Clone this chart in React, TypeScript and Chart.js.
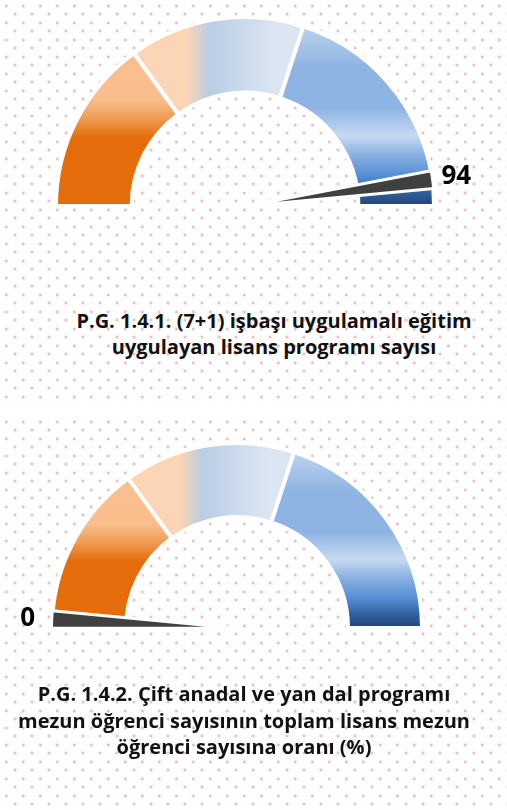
import React, { useEffect, useRef } from "react";
import { Chart, registerables } from "chart.js";

Chart.register(...registerables);

// ---- data ----
const bandLabels = ["Bölge 1", "Bölge 2", "Bölge 3"];
const bandValues = [30, 30, 40];
const gaugeMax = 100;
const needleWidth = 3;
const gauge1Value = 94;
const gauge2Value = 0;
const title1Lines = ["P.G. 1.4.1. (7+1) işbaşı uygulamalı eğitim", "uygulayan lisans programı sayısı"];
const title2Lines = [
  "P.G. 1.4.2. Çift anadal ve yan dal programı",
  "mezun öğrenci sayısının toplam lisans mezun",
  "öğrenci sayısına oranı (%)",
];

// ---- styles ----
const FONT = "'Open Sans', Lato, sans-serif";
const BORDER = 4;
const bandStops: [number, string][][] = [
  [
    [0, "#FAC090"],
    [0.44, "#F9BE8C"],
    [0.54, "#EF9A52"],
    [0.64, "#E46C0A"],
    [1, "#E46C0A"],
  ],
  [
    [0, "#FCD5B5"],
    [0.3475, "#FBD5B5"],
    [0.405, "#B9CDE5"],
    [0.585, "#DCE6F2"],
    [1, "#D8E3F1"],
  ],
  [
    [0, "#C6D9F1"],
    [0.27, "#8EB4E3"],
    [0.48, "#8EB4E3"],
    [0.63, "#C6D9F1"],
    [0.72, "#8EB4E3"],
    [0.84, "#558ED5"],
    [0.93, "#2F5E9E"],
    [1, "#23446F"],
  ],
];

function bandFill(c: any) {
  const chart = c.chart;
  const area = chart.chartArea;
  if (!area) return "#cccccc";
  const ctx = chart.ctx as CanvasRenderingContext2D;
  const R = (area.right - area.left - BORDER) / 2;
  const cx = (area.left + area.right) / 2;
  const cy = (area.top + area.bottom) / 2 + R / 2;
  const i = c.dataIndex ?? 0;
  const g =
    i === 1
      ? ctx.createLinearGradient(cx - R, 0, cx + R, 0)
      : ctx.createLinearGradient(0, cy - R, 0, cy);
  bandStops[i].forEach(([t, col]) => g.addColorStop(t, col));
  return g;
}

const needleLabelPlugin = {
  id: "needleLabel",
  afterDraw(chart: any, _args: any, opts: any) {
    const meta = chart.getDatasetMeta(0);
    const arc = meta.data[1];
    if (!arc) return;
    const p = arc.getProps(["x", "y", "startAngle", "endAngle", "outerRadius"], true);
    const mid = (p.startAngle + p.endAngle) / 2;
    const r = p.outerRadius + (opts.offset || 24);
    const ctx = chart.ctx as CanvasRenderingContext2D;
    ctx.save();
    ctx.font = `bold ${opts.size || 26}px ${FONT}`;
    ctx.fillStyle = "#000000";
    ctx.textAlign = "center";
    ctx.textBaseline = "middle";
    ctx.fillText(String(chart.data.datasets[0].data[0]), p.x + r * Math.cos(mid), p.y + r * Math.sin(mid));
    ctx.restore();
  },
};

type Pad = { left: number; right: number; top: number; bottom: number };

function Gauge({ top, height, value, pad }: { top: number; height: number; value: number; pad: Pad }) {
  const baseRef = useRef<HTMLCanvasElement>(null);
  const needleRef = useRef<HTMLCanvasElement>(null);
  useEffect(() => {
    const common: any = {
      responsive: false,
      animation: false,
      events: [],
      layout: { padding: pad },
      rotation: -90,
      circumference: 180,
    };
    const base = new Chart(baseRef.current as HTMLCanvasElement, {
      type: "doughnut",
      data: {
        labels: bandLabels,
        datasets: [
          {
            data: bandValues,
            backgroundColor: (c: any) => bandFill(c),
            borderColor: "#ffffff",
            borderWidth: BORDER,
            hoverBorderWidth: BORDER,
            offset: 0,
            hoverOffset: 0,
          } as any,
        ],
      },
      options: {
        ...common,
        cutout: "60%",
        plugins: { legend: { display: false }, tooltip: { enabled: false } },
      },
    });
    const needle = new Chart(needleRef.current as HTMLCanvasElement, {
      type: "pie",
      data: {
        labels: ["değer", "ibre", "kalan"],
        datasets: [
          {
            data: [value, needleWidth, gaugeMax - value - needleWidth],
            backgroundColor: ["rgba(0,0,0,0)", "#404040", "rgba(0,0,0,0)"],
            borderColor: ["rgba(0,0,0,0)", "#ffffff", "rgba(0,0,0,0)"],
            borderWidth: [0, 3, 0],
            hoverBorderWidth: BORDER,
            offset: 0,
            hoverOffset: 0,
          } as any,
        ],
      },
      options: {
        ...common,
        plugins: {
          legend: { display: false },
          tooltip: { enabled: false },
          needleLabel: { offset: 24, size: 26 },
        } as any,
      },
      plugins: [needleLabelPlugin as any],
    });
    return () => {
      base.destroy();
      needle.destroy();
    };
  }, []);
  const cs: React.CSSProperties = { position: "absolute", left: 0, top, width: 507, height };
  return (
    <>
      <canvas ref={baseRef} width={507} height={height} style={cs} />
      <canvas ref={needleRef} width={507} height={height} style={cs} />
    </>
  );
}

const dot = "radial-gradient(circle, rgba(222,130,130,0.7) 0, rgba(222,130,130,0.55) 1px, rgba(222,130,130,0) 1.7px)";
function dotLayer(top: number, height: number): React.CSSProperties {
  return {
    position: "absolute",
    left: 0,
    top,
    width: 507,
    height,
    backgroundImage: `${dot}, ${dot}`,
    backgroundSize: "17px 17px, 17px 17px",
    backgroundPosition: "14.8px 14.5px, 6.5px 5.5px",
  };
}

function Title({ lines, left, width, top, lh, size }: { lines: string[]; left: number; width: number; top: number; lh: number; size: number }) {
  return (
    <div
      style={{
        position: "absolute",
        left,
        top,
        width,
        textAlign: "center",
        fontFamily: FONT,
        fontWeight: 700,
        fontSize: size,
        lineHeight: `${lh}px`,
        color: "#111111",
        whiteSpace: "nowrap",
      }}
    >
      {lines.map((l, i) => (
        <div key={i}>{l}</div>
      ))}
    </div>
  );
}

export default function App() {
  return (
    <div style={{ position: "absolute", left: 0, top: 0, width: 507, height: 810, background: "#ffffff", overflow: "hidden" }}>
      <div style={dotLayer(0, 400)} />
      <div style={dotLayer(416, 394)} />
      <Gauge top={0} height={260} value={gauge1Value} pad={{ left: 54, right: 71, top: 15, bottom: 52 }} />
      <Gauge top={410} height={260} value={gauge2Value} pad={{ left: 50, right: 83, top: 31, bottom: 40 }} />
      <Title lines={title1Lines} left={24} width={500} top={308} lh={26} size={20} />
      <Title lines={title2Lines} left={0} width={488} top={681} lh={26.7} size={20} />
    </div>
  );
}
